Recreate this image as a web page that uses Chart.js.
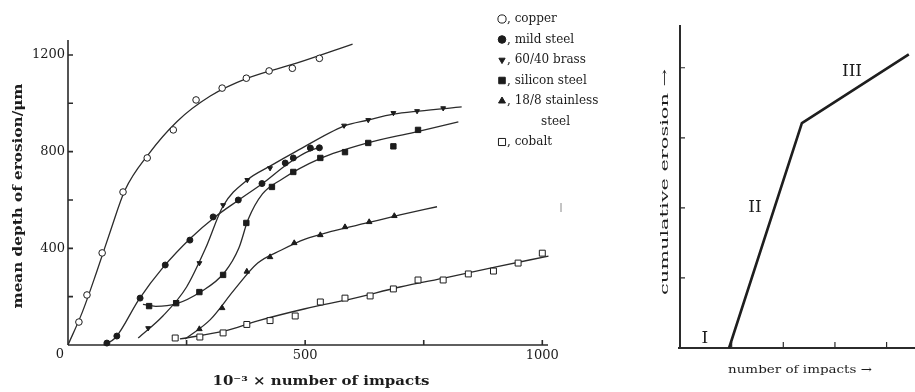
<!DOCTYPE html>
<html>
<head>
<meta charset="utf-8">
<script src="https://cdn.jsdelivr.net/npm/chart.js@4.4.1/dist/chart.umd.min.js"></script>
<style>
  html, body { margin: 0; padding: 0; background: #fff; overflow: hidden; }
  #erosion { position: absolute; left: 0; top: 0; }
  #regimes { position: absolute; left: 655px; top: 0; }
</style>
</head>
<body>
<canvas id="erosion" width="660" height="392"></canvas>
<canvas id="regimes" width="260" height="392"></canvas>
<script>
const ink = '#1c1c1c';
const lineInk = '#2b2b2b';
const serif = '"DejaVu Serif", "Liberation Serif", serif';

// measured points: [10^-3 x impacts, mean depth in um]
const copperPoints = [[23, 95], [40, 207], [72, 381], [116, 633], [167, 774], [222, 890], [270, 1014],
  [325, 1063], [376, 1104], [424, 1134], [473, 1145], [530, 1186], [580, 1295]];
const mildSteelPoints = [[82, 8], [103, 37], [152, 194], [205, 331], [257, 434], [306, 530], [359, 600],
  [409, 668], [458, 753], [475, 774], [511, 815], [530, 816]];
const brassPoints = [[169, 70], [228, 178], [277, 339], [327, 579], [378, 683], [426, 732],
  [582, 908], [633, 931], [686, 960], [736, 968], [791, 980]];
const siliconPoints = [[171, 161], [228, 173], [277, 219], [327, 290], [376, 505], [430, 654], [475, 716],
  [532, 774], [584, 798], [633, 836], [686, 822], [738, 890]];
const stainlessPoints = [[277, 66], [325, 153], [377, 304], [426, 364], [477, 422], [532, 455],
  [584, 488], [635, 509], [688, 534]];
const cobaltPoints = [[226, 29], [278, 33], [327, 50], [377, 85], [426, 101], [479, 120], [532, 178],
  [584, 194], [637, 203], [686, 232], [738, 269], [791, 269], [844, 294], [897, 306], [949, 339], [1000, 380]];

// hand-fitted curves through each set
const copperCurve = [[0, 0], [30, 135], [60, 300], [90, 475], [120, 640], [170, 790], [230, 925],
  [300, 1030], [380, 1105], [480, 1165], [600, 1245]];
const mildSteelCurve = [[75, 0], [100, 30], [150, 190], [200, 320], [260, 445], [310, 530], [360, 600],
  [410, 668], [460, 745], [500, 795], [535, 822]];
const brassCurve = [[148, 29], [200, 120], [250, 240], [290, 400], [327, 575], [378, 683], [426, 740],
  [480, 800], [582, 906], [633, 931], [686, 955], [740, 968], [830, 985]];
const siliconCurve = [[158, 168], [185, 160], [228, 170], [280, 220], [330, 300], [360, 400], [380, 520],
  [410, 625], [450, 685], [530, 770], [630, 835], [730, 880], [823, 923]];
const stainlessCurve = [[247, 25], [300, 105], [350, 227], [400, 339], [450, 393], [500, 438], [560, 472],
  [630, 505], [700, 538], [778, 572]];
const cobaltCurve = [[236, 25], [330, 58], [400, 100], [500, 150], [600, 192], [700, 240], [800, 280],
  [900, 322], [1013, 368]];

const xTicks = [500, 1000];
const xMinorTicks = [250, 750];
const yTicks = [400, 800, 1200];
const yMinorTicks = [200, 600, 1000];
const legendNames = ['copper', 'mild steel', '60/40 brass', 'silicon steel', '18/8 stainless', 'cobalt'];

// schematic of the three erosion stages
const regimeX = [0.95, 2.36, 4.43];
const regimeY = [0, 3.21, 4.19];
const regimeTicks = [1, 2, 3, 4];
const regimeLabels = ['I', 'II', 'III'];
const regimeLabelAt = [[0.48, 0.14], [1.45, 2.01], [3.33, 3.94]];

const markerStyles = [
  { pointStyle: 'circle', filled: false, radius: 3.3, rotation: 0 },
  { pointStyle: 'circle', filled: true, radius: 3, rotation: 0 },
  { pointStyle: 'triangle', filled: true, radius: 2.8, rotation: 180 },
  { pointStyle: 'rect', filled: true, radius: 3.8, rotation: 0 },
  { pointStyle: 'triangle', filled: true, radius: 3.2, rotation: 0 },
  { pointStyle: 'rect', filled: false, radius: 4.2, rotation: 0 }
];

const toXY = pts => pts.map(([x, y]) => ({ x, y }));

function curve(pts) {
  return {
    data: toXY(pts), showLine: true, pointRadius: 0, borderColor: lineInk, borderWidth: 1.3,
    cubicInterpolationMode: 'monotone', clip: false, order: 2
  };
}

function marks(pts, m) {
  return {
    data: toXY(pts), showLine: false, pointStyle: m.pointStyle, pointRadius: m.radius,
    pointRotation: m.rotation, pointBackgroundColor: m.filled ? ink : '#fff',
    pointBorderColor: ink, pointBorderWidth: 1, clip: false, order: 1
  };
}

function fitText(ctx, text, cx, cy, width, angle) {
  ctx.save();
  ctx.translate(cx, cy);
  ctx.rotate(angle);
  const w = ctx.measureText(text).width;
  ctx.scale(width / w, 1);
  ctx.textAlign = 'center';
  ctx.textBaseline = 'middle';
  ctx.fillText(text, 0, 0);
  ctx.restore();
}

const erosionFrame = {
  id: 'erosionFrame',
  beforeDatasetsDraw(chart) {
    const { ctx, scales: { x, y } } = chart;
    const ox = x.getPixelForValue(0), oy = y.getPixelForValue(0);
    ctx.save();
    ctx.strokeStyle = lineInk;
    ctx.lineWidth = 1.6;
    ctx.beginPath();
    ctx.moveTo(x.left, oy); ctx.lineTo(x.right, oy);
    ctx.moveTo(ox, oy); ctx.lineTo(ox, y.top);
    xTicks.concat(xMinorTicks).forEach(v => {
      const px = x.getPixelForValue(v);
      ctx.moveTo(px, oy); ctx.lineTo(px, oy - 5);
    });
    yTicks.concat(yMinorTicks).forEach(v => {
      const py = y.getPixelForValue(v);
      ctx.moveTo(ox, py); ctx.lineTo(ox + 5, py);
    });
    ctx.stroke();

    ctx.fillStyle = ink;
    ctx.font = '13px ' + serif;
    ctx.textBaseline = 'middle';
    ctx.textAlign = 'right';
    yTicks.forEach(v => ctx.fillText(String(v), ox - 3, y.getPixelForValue(v)));
    ctx.textAlign = 'center';
    xTicks.forEach(v => ctx.fillText(String(v), x.getPixelForValue(v), oy + 11));
    ctx.fillText('0', ox - 8, oy + 10);

    ctx.font = 'bold 13px ' + serif;
    fitText(ctx, '10\u207B\u00B3 \u00D7 number of impacts', 321, 382, 217, 0);
    fitText(ctx, 'mean depth of erosion/\u03BCm', 19, 196, 225, -Math.PI / 2);
    ctx.restore();
  },
  afterDatasetsDraw(chart) {
    const { ctx } = chart;
    ctx.save();
    ctx.font = '12px ' + serif;
    ctx.textAlign = 'left';
    ctx.textBaseline = 'middle';
    let row = 19;
    legendNames.forEach((name, i) => {
      const m = markerStyles[i];
      ctx.fillStyle = m.filled ? ink : '#fff';
      ctx.strokeStyle = ink;
      ctx.lineWidth = 1;
      Chart.helpers.drawPoint(ctx, { pointStyle: m.pointStyle, radius: m.radius + 0.8, rotation: m.rotation, borderWidth: 1 }, 502, row);
      ctx.fillStyle = ink;
      ctx.fillText(', ' + name, 507, row);
      if (name.indexOf('stainless') >= 0) {
        row += 20.5;
        ctx.fillText('steel', 541, row);
      }
      row += 20.5;
    });
    // small stray mark in the margin
    ctx.strokeStyle = '#8a8a8a';
    ctx.beginPath();
    ctx.moveTo(561, 203); ctx.lineTo(561, 212);
    ctx.stroke();
    ctx.restore();
  }
};

new Chart(document.getElementById('erosion'), {
  type: 'scatter',
  data: {
    datasets: [
      curve(copperCurve), curve(mildSteelCurve), curve(brassCurve),
      curve(siliconCurve), curve(stainlessCurve), curve(cobaltCurve),
      marks(copperPoints, markerStyles[0]), marks(mildSteelPoints, markerStyles[1]),
      marks(brassPoints, markerStyles[2]), marks(siliconPoints, markerStyles[3]),
      marks(stainlessPoints, markerStyles[4]), marks(cobaltPoints, markerStyles[5])
    ]
  },
  options: {
    responsive: false,
    animation: false,
    events: [],
    layout: { padding: { left: 68, right: 660 - 548, top: 40, bottom: 392 - 345 } },
    scales: {
      x: { type: 'linear', display: false, min: 0, max: 1012 },
      y: { type: 'linear', display: false, min: 0, max: 1262 }
    },
    plugins: { legend: { display: false }, tooltip: { enabled: false } }
  },
  plugins: [erosionFrame]
});

const regimeFrame = {
  id: 'regimeFrame',
  beforeDatasetsDraw(chart) {
    const { ctx, scales: { x, y } } = chart;
    const ox = x.getPixelForValue(0), oy = y.getPixelForValue(0);
    ctx.save();
    ctx.strokeStyle = lineInk;
    ctx.lineWidth = 2;
    ctx.beginPath();
    ctx.moveTo(ox - 2, oy); ctx.lineTo(x.right, oy);
    ctx.moveTo(ox, oy); ctx.lineTo(ox, y.top);
    ctx.stroke();
    ctx.lineWidth = 1.2;
    ctx.beginPath();
    regimeTicks.forEach(v => {
      const px = x.getPixelForValue(v);
      ctx.moveTo(px, oy); ctx.lineTo(px, oy - 6);
      const py = y.getPixelForValue(v);
      ctx.moveTo(ox, py); ctx.lineTo(ox + 5, py);
    });
    ctx.stroke();

    ctx.fillStyle = ink;
    ctx.font = '17px ' + serif;
    ctx.textAlign = 'center';
    ctx.textBaseline = 'middle';
    regimeLabels.forEach((t, i) => {
      const [vx, vy] = regimeLabelAt[i];
      ctx.fillText(t, x.getPixelForValue(vx), y.getPixelForValue(vy));
    });

    ctx.font = '11px ' + serif;
    fitText(ctx, 'number of impacts \u2192', 145, 370, 144, 0);
    fitText(ctx, 'cumulative erosion \u2192', 10, 182, 226, -Math.PI / 2);
    ctx.restore();
  }
};

new Chart(document.getElementById('regimes'), {
  type: 'scatter',
  data: {
    datasets: [{
      data: regimeX.map((v, i) => ({ x: v, y: regimeY[i] })),
      showLine: true, pointRadius: 0, borderColor: '#1e1e1e', borderWidth: 2.6, tension: 0, clip: false
    }]
  },
  options: {
    responsive: false,
    animation: false,
    events: [],
    layout: { padding: { left: 25, right: 0, top: 25, bottom: 392 - 348 } },
    scales: {
      x: { type: 'linear', display: false, min: 0, max: 4.55 },
      y: { type: 'linear', display: false, min: 0, max: 4.61 }
    },
    plugins: { legend: { display: false }, tooltip: { enabled: false } }
  },
  plugins: [regimeFrame]
});
</script>
</body>
</html>
